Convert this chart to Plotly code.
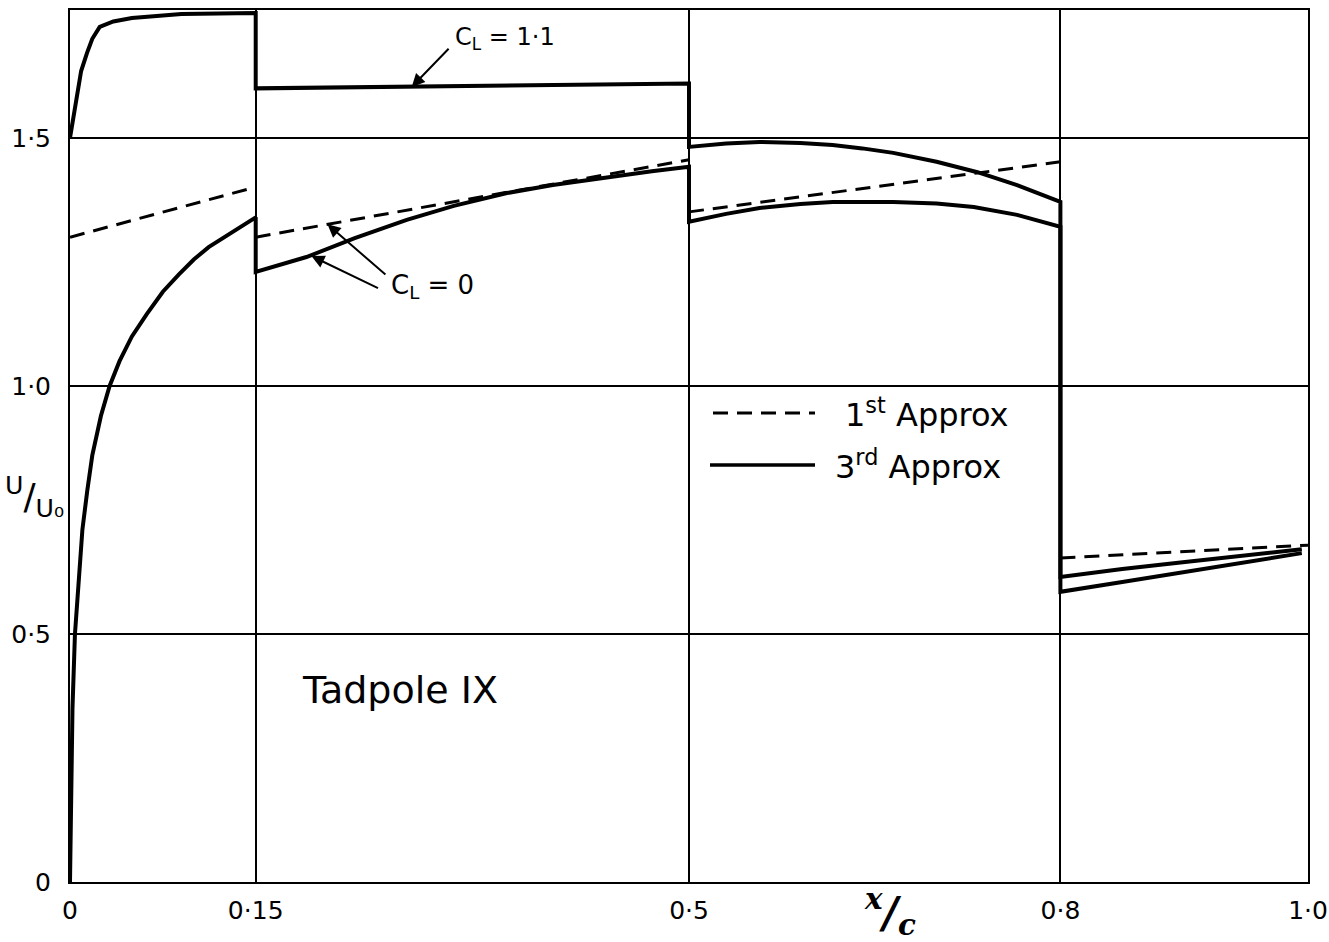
import plotly.graph_objects as go

# ---- data ----
# 3rd approximation, C_L = 1.1 (solid)
cl11_x = [0.0, 0.002, 0.004, 0.0057, 0.009, 0.0137, 0.018, 0.024, 0.035, 0.05, 0.09, 0.15,
          0.15, 0.5,
          0.5, 0.53, 0.557, 0.59, 0.616, 0.64, 0.665, 0.70, 0.733, 0.765, 0.8,
          0.8, 0.85, 0.897, 0.95, 0.995]
cl11_y = [1.50, 1.53, 1.565, 1.597, 1.635, 1.671, 1.700, 1.724, 1.735, 1.742, 1.750, 1.752,
          1.600, 1.610,
          1.482, 1.489, 1.492, 1.490, 1.486, 1.479, 1.470, 1.452, 1.431, 1.405, 1.371,
          0.615, 0.631, 0.644, 0.658, 0.671]

# 3rd approximation, C_L = 0 (solid)
cl0_x = [0.0, 0.001, 0.002, 0.004, 0.007, 0.01, 0.014, 0.018, 0.025, 0.032, 0.04, 0.05, 0.062,
         0.075, 0.088, 0.1, 0.112, 0.125, 0.138, 0.15,
         0.15, 0.191, 0.23, 0.272, 0.31, 0.353, 0.39, 0.434, 0.47, 0.5,
         0.5, 0.53, 0.557, 0.59, 0.616, 0.665, 0.70, 0.73, 0.765, 0.8,
         0.8, 0.85, 0.897, 0.95, 0.995]
cl0_y = [0.0, 0.20, 0.35, 0.50, 0.62, 0.71, 0.79, 0.86, 0.94, 1.00, 1.05, 1.10, 1.145,
         1.19, 1.225, 1.255, 1.28, 1.30, 1.32, 1.34,
         1.230, 1.260, 1.298, 1.335, 1.363, 1.389, 1.405, 1.421, 1.433, 1.442,
         1.331, 1.347, 1.359, 1.367, 1.371, 1.371, 1.368, 1.361, 1.345, 1.321,
         0.585, 0.605, 0.624, 0.644, 0.663]

# 1st approximation (dashed), separate segments
first_x = [0.0, 0.15, None, 0.15, 0.5, None, 0.5, 0.8, None, 0.8, 1.0]
first_y = [1.30, 1.401, None, 1.300, 1.456, None, 1.351, 1.452, None, 0.653, 0.679]

x_tickvals = [0, 0.15, 0.5, 0.8, 1.0]
x_ticktext = ["0", "0·15", "0·5", "0·8", "1·0"]
y_tickvals = [0, 0.5, 1.0, 1.5]
y_ticktext = ["0", "0·5", "1·0", "1·5"]

FONT = "DejaVu Sans"
BLACK = "#000000"
DASH = "15px,9px"

fig = go.Figure()
fig.add_trace(go.Scatter(x=first_x, y=first_y, mode="lines", name="1st Approx",
                         line=dict(color=BLACK, width=3, dash=DASH), connectgaps=False))
fig.add_trace(go.Scatter(x=cl0_x, y=cl0_y, mode="lines", name="3rd Approx C_L=0",
                         line=dict(color=BLACK, width=4)))
fig.add_trace(go.Scatter(x=cl11_x, y=cl11_y, mode="lines", name="3rd Approx C_L=1.1",
                         line=dict(color=BLACK, width=4)))

axis_common = dict(showline=True, linecolor=BLACK, linewidth=2, mirror=True,
                   showgrid=True, gridcolor=BLACK, gridwidth=2, zeroline=False,
                   ticks="", automargin=False,
                   tickfont=dict(family=FONT, size=25, color=BLACK))

fig.update_xaxes(range=[0, 1.0], tickvals=x_tickvals, ticktext=x_ticktext,
                 ticklabelstandoff=5, **axis_common)
fig.update_yaxes(range=[0, 1.758], tickvals=y_tickvals, ticktext=y_ticktext,
                 ticklabelstandoff=12, **axis_common)


def px_x(p):
    return (p - 70) / 1238


def px_y(p):
    return (882 - p) / 872


annotations = [
    # C_L = 1.1 label and arrow
    dict(x=0.276, y=1.603, ax=0.307, ay=1.683, axref="x", ayref="y", xref="x", yref="y",
         text="", showarrow=True, arrowhead=2, arrowsize=1.3, arrowwidth=2, arrowcolor=BLACK),
    dict(x=0.309, y=1.70, xref="x", yref="y", xanchor="left", yanchor="middle", showarrow=False,
         text="C<sub>L</sub> = 1·1", font=dict(family=FONT, size=24, color=BLACK)),
    # C_L = 0 label and arrows
    dict(x=0.208, y=1.326, ax=0.256, ay=1.222, axref="x", ayref="y", xref="x", yref="y",
         text="", showarrow=True, arrowhead=2, arrowsize=1.3, arrowwidth=2, arrowcolor=BLACK),
    dict(x=0.195, y=1.262, ax=0.250, ay=1.196, axref="x", ayref="y", xref="x", yref="y",
         text="", showarrow=True, arrowhead=2, arrowsize=1.3, arrowwidth=2, arrowcolor=BLACK),
    dict(x=0.258, y=1.20, xref="x", yref="y", xanchor="left", yanchor="middle", showarrow=False,
         text="C<sub>L</sub> = 0", font=dict(family=FONT, size=26, color=BLACK)),
    # Tadpole IX
    dict(x=0.186, y=0.387, xref="x", yref="y", xanchor="left", yanchor="middle", showarrow=False,
         text="Tadpole IX", font=dict(family=FONT, size=38, color=BLACK)),
    # legend texts
    dict(x=px_x(843), y=px_y(413), xref="paper", yref="paper", xanchor="left",
         yanchor="middle", showarrow=False, text="1<sup>st</sup> Approx",
         font=dict(family=FONT, size=32, color=BLACK)),
    dict(x=px_x(833), y=px_y(465), xref="paper", yref="paper", xanchor="left",
         yanchor="middle", showarrow=False, text="3<sup>rd</sup> Approx",
         font=dict(family=FONT, size=32, color=BLACK)),
    # axis titles
    dict(x=px_x(34), y=px_y(497), xref="paper", yref="paper", xanchor="center",
         yanchor="middle", showarrow=False, text="<sup>U</sup>/<sub>U₀</sub>",
         font=dict(family=FONT, size=36, color=BLACK)),
    dict(x=px_x(890), y=px_y(911), xref="paper", yref="paper", xanchor="center",
         yanchor="middle", showarrow=False, text="<b><i><sup>x</sup>/<sub>c</sub></i></b>",
         font=dict(family="DejaVu Serif", size=42, color=BLACK)),
]

shapes = [
    dict(type="line", xref="paper", yref="paper",
         x0=px_x(713), x1=px_x(815), y0=px_y(413), y1=px_y(413),
         line=dict(color=BLACK, width=3, dash=DASH)),
    dict(type="line", xref="paper", yref="paper",
         x0=px_x(710), x1=px_x(815), y0=px_y(465), y1=px_y(465),
         line=dict(color=BLACK, width=3.5)),
]

fig.update_layout(
    width=1329, height=942,
    margin=dict(l=70, r=21, t=10, b=60),
    paper_bgcolor="white", plot_bgcolor="white",
    showlegend=False,
    annotations=annotations, shapes=shapes,
    font=dict(family=FONT, color=BLACK),
)

# remove the page's default body margin so the figure sits at the window's corner
fig.write_html("out.html",
               config={"displayModeBar": False},
               post_script="document.body.style.margin='0';document.body.style.overflow='hidden';")
